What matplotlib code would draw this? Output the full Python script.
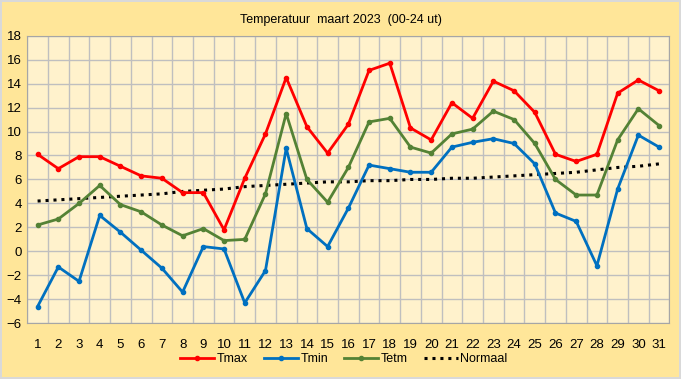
#!/usr/bin/env python3

import matplotlib
matplotlib.use('Agg')
import matplotlib.pyplot as plt
import numpy as np

days = list(range(1, 32))

tmax = [8.1, 6.9, 7.9, 7.9, 7.1, 6.3, 6.1, 4.9, 4.9, 1.8,
        6.1, 9.8, 14.5, 10.4, 8.2, 10.6, 15.1, 15.7, 10.3, 9.3,
        12.4, 11.1, 14.2, 13.4, 11.6, 8.1, 7.5, 8.1, 13.2, 14.3, 13.4]
tmin = [-4.6, -1.3, -2.5, 3.0, 1.6, 0.1, -1.4, -3.4, 0.4, 0.2,
        -4.3, -1.6, 8.6, 1.9, 0.4, 3.6, 7.2, 6.9, 6.6, 6.6,
        8.7, 9.1, 9.4, 9.0, 7.3, 3.2, 2.5, -1.2, 5.2, 9.7, 8.7]
tetm = [2.2, 2.7, 4.0, 5.5, 3.9, 3.3, 2.2, 1.3, 1.9, 0.9,
        1.0, 4.8, 11.5, 6.0, 4.1, 7.0, 10.8, 11.1, 8.7, 8.2,
        9.8, 10.2, 11.7, 11.0, 9.0, 6.0, 4.7, 4.7, 9.3, 11.9, 10.5]
normaal = [4.2, 4.3, 4.4, 4.5, 4.6, 4.7, 4.8, 5.0, 5.1, 5.2,
           5.4, 5.5, 5.6, 5.7, 5.8, 5.8, 5.9, 5.9, 6.0, 6.0,
           6.1, 6.1, 6.2, 6.3, 6.4, 6.5, 6.6, 6.8, 7.0, 7.1, 7.3]

plt.rcParams['font.family'] = ['Liberation Sans', 'DejaVu Sans']

fig = plt.figure(figsize=(6.81, 3.79), dpi=100, facecolor='#FFE699',
                 edgecolor='#D9D9D9', linewidth=1.5)
ax = fig.add_axes([0.040, 0.147, 0.943, 0.759])
ax.set_facecolor('#FFF2CC')

ax.plot(days, tmax, color='#FF0000', lw=2, marker='o', ms=3, label='Tmax', zorder=4)
ax.plot(days, tmin, color='#0070C0', lw=2, marker='o', ms=3, label='Tmin', zorder=4)
ax.plot(days, tetm, color='#548235', lw=2, marker='o', ms=3, label='Tetm', zorder=4)
ax.plot(days, normaal, color='black', lw=2.2, ls=(0, (1, 1.6)), label='Normaal', zorder=3)

ax.set_xlim(0.5, 31.5)
ax.set_ylim(-6, 18)
ax.set_xticks(days)
ax.set_xticks(np.arange(0.5, 32, 1), minor=True)
ax.set_yticks(np.arange(-6, 19, 2))
ax.grid(True, which='minor', axis='x', color='#BFBFBF', lw=1)
ax.grid(True, which='major', axis='y', color='#BFBFBF', lw=1)
ax.set_axisbelow(True)
ax.tick_params(which='both', length=0, labelsize=9.5)
ax.tick_params(axis='x', pad=11)
ax.tick_params(axis='y', pad=4)
for s in ax.spines.values():
    s.set_color('#A6A6A6')

fig.text(0.5, 0.948, 'Temperatuur  maart 2023  (00-24 ut)', ha='center', va='center', fontsize=9)

fig.legend(loc='center', bbox_to_anchor=(0.505, 0.052), ncol=4, frameon=False,
           fontsize=9, handlelength=2.7, handletextpad=0.2, columnspacing=1.3)

fig.savefig('out.png', dpi=100, facecolor=fig.get_facecolor(), edgecolor=fig.get_edgecolor())
